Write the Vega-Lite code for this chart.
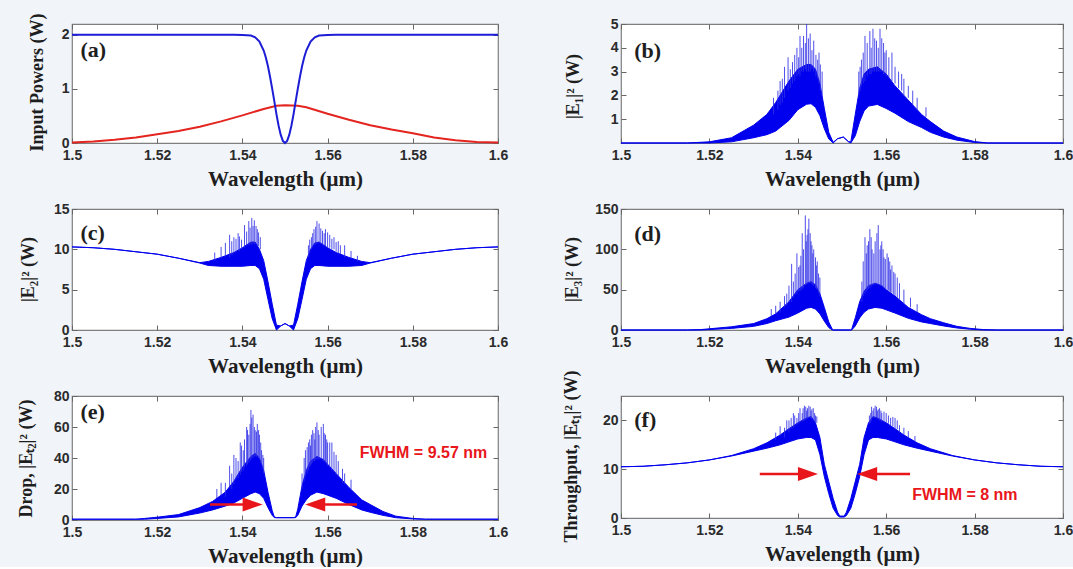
{
"$schema": "https://vega.github.io/schema/vega-lite/v6.json",
"background": "#f1f4f9",
"padding": {"left": 16, "top": 12, "right": 0, "bottom": 0},
"config": {
 "view": {"stroke": "#7f7f7f", "strokeWidth": 1.2, "fill": "#ffffff"},
 "axis": {"domain": false, "grid": false, "ticks": true, "tickSize": -5, "tickColor": "#666666", "tickWidth": 1,
  "labelFont": "Liberation Sans", "labelFontSize": 14, "labelFontWeight": "bold", "labelColor": "#2b2b2b",
  "titleFont": "Liberation Serif", "titleFontWeight": "bold", "titleColor": "#1e1e1e",
  "labelFlush": false, "labelOverlap": false, "labelBound": false},
 "axisX": {"titleFontSize": 21, "titlePadding": 6, "labelPadding": 10},
 "axisY": {"titleFontSize": 18, "titleBaseline": "middle", "labelPadding": 8}
},
"datasets": {
 "a_blue": [{"x":1.5,"y":2},{"x":1.53,"y":2},{"x":1.538,"y":2},{"x":1.54,"y":1.995},{"x":1.542,"y":1.986},{"x":1.543,"y":1.954},{"x":1.544,"y":1.876},{"x":1.545,"y":1.71},{"x":1.5455,"y":1.58},{"x":1.546,"y":1.42},{"x":1.5465,"y":1.22},{"x":1.547,"y":1.0},{"x":1.5475,"y":0.77},{"x":1.548,"y":0.53},{"x":1.5485,"y":0.32},{"x":1.549,"y":0.15},{"x":1.5495,"y":0.04},{"x":1.55,"y":0},{"x":1.5505,"y":0.04},{"x":1.551,"y":0.15},{"x":1.5515,"y":0.32},{"x":1.552,"y":0.53},{"x":1.5525,"y":0.77},{"x":1.553,"y":1.0},{"x":1.5535,"y":1.22},{"x":1.554,"y":1.42},{"x":1.5545,"y":1.58},{"x":1.555,"y":1.71},{"x":1.556,"y":1.876},{"x":1.557,"y":1.954},{"x":1.558,"y":1.986},{"x":1.56,"y":1.995},{"x":1.562,"y":2},{"x":1.6,"y":2}],
 "a_red": [{"x":1.5,"y":0.01},{"x":1.505,"y":0.03},{"x":1.51,"y":0.06},{"x":1.515,"y":0.1},{"x":1.52,"y":0.16},{"x":1.525,"y":0.22},{"x":1.53,"y":0.3},{"x":1.535,"y":0.4},{"x":1.54,"y":0.51},{"x":1.545,"y":0.63},{"x":1.548,"y":0.69},{"x":1.55,"y":0.7},{"x":1.553,"y":0.69},{"x":1.555,"y":0.66},{"x":1.56,"y":0.54},{"x":1.565,"y":0.43},{"x":1.57,"y":0.33},{"x":1.575,"y":0.25},{"x":1.58,"y":0.18},{"x":1.585,"y":0.1},{"x":1.59,"y":0.05},{"x":1.595,"y":0.02},{"x":1.6,"y":0.01}],
 "b_band": [{"x":1.5,"lo":0,"hi":0},{"x":1.515,"lo":0,"hi":0},{"x":1.52,"lo":0,"hi":0.05},{"x":1.525,"lo":0.05,"hi":0.22},{"x":1.53,"lo":0.22,"hi":0.75},{"x":1.533,"lo":0.35,"hi":1.2},{"x":1.535,"lo":0.5,"hi":1.7},{"x":1.538,"lo":0.95,"hi":2.6},{"x":1.54,"lo":1.4,"hi":3.1},{"x":1.542,"lo":1.63,"hi":3.3},{"x":1.543,"lo":1.65,"hi":3.3},{"x":1.544,"lo":1.5,"hi":3.1},{"x":1.545,"lo":1.15,"hi":2.5},{"x":1.546,"lo":0.6,"hi":1.45},{"x":1.547,"lo":0.17,"hi":0.45},{"x":1.548,"lo":0,"hi":0.03},{"x":1.549,"lo":0.18,"hi":0.18},{"x":1.5503,"lo":0.25,"hi":0.25},{"x":1.5515,"lo":0.05,"hi":0.05},{"x":1.552,"lo":0,"hi":0.05},{"x":1.553,"lo":0.3,"hi":1.2},{"x":1.554,"lo":0.9,"hi":2.3},{"x":1.555,"lo":1.35,"hi":2.9},{"x":1.556,"lo":1.55,"hi":3.1},{"x":1.558,"lo":1.62,"hi":3.2},{"x":1.56,"lo":1.45,"hi":2.9},{"x":1.562,"lo":1.25,"hi":2.4},{"x":1.565,"lo":0.9,"hi":1.8},{"x":1.568,"lo":0.65,"hi":1.2},{"x":1.57,"lo":0.45,"hi":0.9},{"x":1.573,"lo":0.25,"hi":0.5},{"x":1.576,"lo":0.12,"hi":0.25},{"x":1.58,"lo":0.02,"hi":0.06},{"x":1.583,"lo":0,"hi":0},{"x":1.6,"lo":0,"hi":0}],
 "b_spk": [{"x":1.5345,"y0":1.2,"y1":1.9},{"x":1.5355,"y0":1.4,"y1":2.2},{"x":1.536,"y0":1.6,"y1":2.6},{"x":1.5365,"y0":1.7,"y1":2.7},{"x":1.537,"y0":1.9,"y1":3.2},{"x":1.5378,"y0":2.2,"y1":3.6},{"x":1.5383,"y0":2.3,"y1":3.1},{"x":1.5388,"y0":2.5,"y1":3.4},{"x":1.5393,"y0":2.6,"y1":3.7},{"x":1.5398,"y0":2.8,"y1":4.0},{"x":1.5402,"y0":2.9,"y1":3.6},{"x":1.5405,"y0":2.8,"y1":4.5},{"x":1.5409,"y0":3.0,"y1":4.0},{"x":1.5413,"y0":3.0,"y1":4.5},{"x":1.5417,"y0":3.1,"y1":4.2},{"x":1.542,"y0":3.0,"y1":5.0},{"x":1.5424,"y0":3.0,"y1":4.4},{"x":1.5428,"y0":3.0,"y1":4.6},{"x":1.5432,"y0":3.1,"y1":3.9},{"x":1.5436,"y0":3.0,"y1":4.3},{"x":1.5441,"y0":2.8,"y1":3.7},{"x":1.5445,"y0":2.7,"y1":3.5},{"x":1.5448,"y0":2.5,"y1":3.8},{"x":1.5451,"y0":2.2,"y1":3.3},{"x":1.5455,"y0":2.0,"y1":3.0},{"x":1.5538,"y0":2.0,"y1":3.0},{"x":1.5541,"y0":2.2,"y1":3.2},{"x":1.5544,"y0":2.4,"y1":3.5},{"x":1.5548,"y0":2.5,"y1":3.8},{"x":1.5552,"y0":2.6,"y1":4.5},{"x":1.5557,"y0":2.8,"y1":4.2},{"x":1.5563,"y0":2.9,"y1":4.7},{"x":1.5566,"y0":2.9,"y1":4.0},{"x":1.557,"y0":3.0,"y1":4.8},{"x":1.5574,"y0":3.0,"y1":4.4},{"x":1.5578,"y0":3.0,"y1":4.3},{"x":1.5582,"y0":3.0,"y1":4.0},{"x":1.5586,"y0":3.0,"y1":4.8},{"x":1.559,"y0":3.0,"y1":4.4},{"x":1.5594,"y0":2.9,"y1":4.2},{"x":1.5597,"y0":2.9,"y1":3.8},{"x":1.56,"y0":2.8,"y1":3.9},{"x":1.5606,"y0":2.7,"y1":3.6},{"x":1.5613,"y0":2.6,"y1":3.8},{"x":1.562,"y0":2.5,"y1":3.2},{"x":1.5628,"y0":2.3,"y1":3.0},{"x":1.5635,"y0":2.2,"y1":2.9},{"x":1.564,"y0":2.0,"y1":2.7},{"x":1.565,"y0":1.9,"y1":2.4},{"x":1.566,"y0":1.6,"y1":2.2},{"x":1.567,"y0":1.4,"y1":1.9},{"x":1.569,"y0":1.1,"y1":1.5}],
 "c_band": [{"x":1.5,"lo":10.3,"hi":10.3},{"x":1.505,"lo":10.2,"hi":10.2},{"x":1.51,"lo":10.0,"hi":10.0},{"x":1.515,"lo":9.7,"hi":9.7},{"x":1.52,"lo":9.4,"hi":9.4},{"x":1.525,"lo":8.9,"hi":8.9},{"x":1.53,"lo":8.3,"hi":8.35},{"x":1.532,"lo":8.0,"hi":8.5},{"x":1.535,"lo":7.9,"hi":9.0},{"x":1.538,"lo":7.9,"hi":9.6},{"x":1.54,"lo":7.9,"hi":10.2},{"x":1.542,"lo":8.0,"hi":10.9},{"x":1.543,"lo":8.0,"hi":10.9},{"x":1.544,"lo":7.6,"hi":10.0},{"x":1.545,"lo":6.3,"hi":8.6},{"x":1.546,"lo":3.8,"hi":6.0},{"x":1.547,"lo":1.4,"hi":3.2},{"x":1.548,"lo":0,"hi":0.6},{"x":1.549,"lo":0.5,"hi":0.5},{"x":1.55,"lo":0.8,"hi":0.8},{"x":1.551,"lo":0.5,"hi":0.5},{"x":1.552,"lo":0,"hi":0.6},{"x":1.553,"lo":1.4,"hi":3.2},{"x":1.554,"lo":3.8,"hi":6.0},{"x":1.555,"lo":6.3,"hi":8.6},{"x":1.556,"lo":7.6,"hi":10.0},{"x":1.557,"lo":8.0,"hi":10.8},{"x":1.558,"lo":8.0,"hi":10.9},{"x":1.56,"lo":7.9,"hi":10.2},{"x":1.562,"lo":7.9,"hi":9.6},{"x":1.565,"lo":7.9,"hi":9.0},{"x":1.568,"lo":8.0,"hi":8.5},{"x":1.57,"lo":8.3,"hi":8.35},{"x":1.575,"lo":8.9,"hi":8.9},{"x":1.58,"lo":9.4,"hi":9.4},{"x":1.585,"lo":9.7,"hi":9.7},{"x":1.59,"lo":10.0,"hi":10.0},{"x":1.595,"lo":10.2,"hi":10.2},{"x":1.6,"lo":10.3,"hi":10.3}],
 "c_spk": [{"x":1.5335,"y0":8.6,"y1":9.6},{"x":1.535,"y0":8.9,"y1":10.3},{"x":1.536,"y0":9.1,"y1":10.8},{"x":1.537,"y0":9,"y1":11.8},{"x":1.5375,"y0":9.3,"y1":11},{"x":1.538,"y0":9.5,"y1":11.5},{"x":1.5385,"y0":9.6,"y1":11.3},{"x":1.539,"y0":9.8,"y1":12},{"x":1.5393,"y0":9.8,"y1":11.6},{"x":1.5398,"y0":10,"y1":11.2},{"x":1.5405,"y0":10.2,"y1":13},{"x":1.541,"y0":10.4,"y1":12.2},{"x":1.5415,"y0":10.5,"y1":13.5},{"x":1.5418,"y0":10.6,"y1":12.7},{"x":1.5422,"y0":10.6,"y1":13.9},{"x":1.5425,"y0":10.8,"y1":12.9},{"x":1.5428,"y0":10.6,"y1":13.6},{"x":1.5432,"y0":10.7,"y1":12.9},{"x":1.5435,"y0":10.5,"y1":12.5},{"x":1.5438,"y0":10.4,"y1":12.1},{"x":1.5442,"y0":10,"y1":11.5},{"x":1.5555,"y0":9,"y1":10.5},{"x":1.5558,"y0":9.5,"y1":11.2},{"x":1.5562,"y0":10,"y1":11.5},{"x":1.5565,"y0":10.2,"y1":12},{"x":1.5568,"y0":10.5,"y1":12.5},{"x":1.5572,"y0":10.6,"y1":12.8},{"x":1.5575,"y0":10.7,"y1":13.5},{"x":1.558,"y0":10.8,"y1":13.2},{"x":1.5584,"y0":10.7,"y1":12.6},{"x":1.5588,"y0":10.6,"y1":12.3},{"x":1.5592,"y0":10.5,"y1":12},{"x":1.5595,"y0":10.4,"y1":12.5},{"x":1.56,"y0":10.2,"y1":12.1},{"x":1.5605,"y0":10.2,"y1":11.8},{"x":1.561,"y0":10,"y1":11.3},{"x":1.5615,"y0":10,"y1":11.5},{"x":1.562,"y0":9.7,"y1":10.9},{"x":1.5625,"y0":9.5,"y1":11},{"x":1.563,"y0":9.4,"y1":10.5},{"x":1.564,"y0":9.0,"y1":10.5},{"x":1.5655,"y0":8.9,"y1":9.8},{"x":1.567,"y0":8.5,"y1":9.2}],
 "d_band": [{"x":1.5,"lo":0,"hi":0},{"x":1.515,"lo":0,"hi":0},{"x":1.518,"lo":0,"hi":0.5},{"x":1.52,"lo":0.5,"hi":1.5},{"x":1.525,"lo":2,"hi":4},{"x":1.53,"lo":4.5,"hi":8},{"x":1.533,"lo":8,"hi":14},{"x":1.535,"lo":11.5,"hi":20},{"x":1.538,"lo":16,"hi":35},{"x":1.54,"lo":21,"hi":50},{"x":1.542,"lo":27,"hi":58},{"x":1.543,"lo":28,"hi":60},{"x":1.544,"lo":26,"hi":56},{"x":1.545,"lo":20,"hi":45},{"x":1.546,"lo":11,"hi":28},{"x":1.547,"lo":3,"hi":10},{"x":1.5478,"lo":0,"hi":1},{"x":1.548,"lo":0,"hi":0},{"x":1.552,"lo":0,"hi":0},{"x":1.5522,"lo":0,"hi":1},{"x":1.553,"lo":5,"hi":15},{"x":1.554,"lo":15,"hi":35},{"x":1.555,"lo":22,"hi":48},{"x":1.556,"lo":26,"hi":55},{"x":1.5575,"lo":28,"hi":58},{"x":1.559,"lo":27,"hi":55},{"x":1.56,"lo":25,"hi":50},{"x":1.562,"lo":21,"hi":42},{"x":1.565,"lo":14.5,"hi":28},{"x":1.568,"lo":10,"hi":19},{"x":1.57,"lo":8,"hi":14},{"x":1.573,"lo":5,"hi":9},{"x":1.576,"lo":2.5,"hi":4.5},{"x":1.579,"lo":1,"hi":2},{"x":1.582,"lo":0,"hi":0.5},{"x":1.585,"lo":0,"hi":0},{"x":1.6,"lo":0,"hi":0}],
 "d_spk": [{"x":1.534,"y0":17,"y1":26},{"x":1.535,"y0":20,"y1":30},{"x":1.536,"y0":22,"y1":35},{"x":1.537,"y0":28,"y1":42},{"x":1.5375,"y0":30,"y1":45},{"x":1.538,"y0":34,"y1":55},{"x":1.5386,"y0":35,"y1":82},{"x":1.539,"y0":40,"y1":60},{"x":1.5394,"y0":44,"y1":70},{"x":1.5398,"y0":45,"y1":95},{"x":1.5402,"y0":48,"y1":78},{"x":1.5405,"y0":48,"y1":80},{"x":1.5407,"y0":50,"y1":92},{"x":1.541,"y0":50,"y1":120},{"x":1.5413,"y0":52,"y1":100},{"x":1.5417,"y0":55,"y1":142},{"x":1.5419,"y0":56,"y1":110},{"x":1.5421,"y0":57,"y1":118},{"x":1.5423,"y0":58,"y1":125},{"x":1.5425,"y0":58,"y1":138},{"x":1.5428,"y0":58,"y1":120},{"x":1.543,"y0":58,"y1":110},{"x":1.5432,"y0":57,"y1":105},{"x":1.5434,"y0":56,"y1":95},{"x":1.5436,"y0":55,"y1":100},{"x":1.544,"y0":52,"y1":90},{"x":1.5442,"y0":51,"y1":80},{"x":1.5444,"y0":50,"y1":85},{"x":1.5447,"y0":46,"y1":70},{"x":1.545,"y0":42,"y1":65},{"x":1.5545,"y0":35,"y1":60},{"x":1.5548,"y0":42,"y1":85},{"x":1.5552,"y0":45,"y1":115},{"x":1.5555,"y0":48,"y1":95},{"x":1.5557,"y0":50,"y1":105},{"x":1.556,"y0":51,"y1":110},{"x":1.5563,"y0":52,"y1":125},{"x":1.5566,"y0":54,"y1":115},{"x":1.5568,"y0":55,"y1":100},{"x":1.5572,"y0":56,"y1":95},{"x":1.5575,"y0":56,"y1":110},{"x":1.5579,"y0":57,"y1":120},{"x":1.5582,"y0":56,"y1":130},{"x":1.5586,"y0":55,"y1":100},{"x":1.5588,"y0":55,"y1":105},{"x":1.559,"y0":54,"y1":110},{"x":1.5593,"y0":53,"y1":100},{"x":1.5595,"y0":52,"y1":90},{"x":1.5598,"y0":51,"y1":88},{"x":1.5602,"y0":50,"y1":95},{"x":1.5605,"y0":49,"y1":90},{"x":1.5608,"y0":48,"y1":85},{"x":1.561,"y0":47,"y1":75},{"x":1.5613,"y0":46,"y1":80},{"x":1.5617,"y0":44,"y1":72},{"x":1.562,"y0":42,"y1":70},{"x":1.5625,"y0":40,"y1":65},{"x":1.563,"y0":38,"y1":58},{"x":1.564,"y0":32,"y1":50},{"x":1.5655,"y0":28,"y1":40},{"x":1.567,"y0":22,"y1":32}],
 "e_band": [{"x":1.5,"lo":0.5,"hi":0.5},{"x":1.515,"lo":0.5,"hi":0.5},{"x":1.517,"lo":0.5,"hi":1.0},{"x":1.52,"lo":1.0,"hi":1.8},{"x":1.525,"lo":2.0,"hi":3.5},{"x":1.53,"lo":4.5,"hi":8},{"x":1.533,"lo":6.5,"hi":12},{"x":1.536,"lo":9,"hi":18},{"x":1.538,"lo":11,"hi":25},{"x":1.54,"lo":14,"hi":34},{"x":1.542,"lo":17,"hi":41},{"x":1.543,"lo":18,"hi":43},{"x":1.544,"lo":17,"hi":40},{"x":1.545,"lo":14,"hi":32},{"x":1.546,"lo":8,"hi":18},{"x":1.547,"lo":3,"hi":6},{"x":1.5475,"lo":1.5,"hi":2},{"x":1.548,"lo":1.5,"hi":1.5},{"x":1.552,"lo":1.5,"hi":1.5},{"x":1.5525,"lo":1.5,"hi":2},{"x":1.553,"lo":3,"hi":7},{"x":1.554,"lo":9,"hi":22},{"x":1.555,"lo":13,"hi":32},{"x":1.556,"lo":16,"hi":38},{"x":1.5575,"lo":18,"hi":41},{"x":1.559,"lo":17,"hi":39},{"x":1.56,"lo":16,"hi":36},{"x":1.562,"lo":14,"hi":30},{"x":1.565,"lo":10,"hi":21},{"x":1.568,"lo":6.5,"hi":13},{"x":1.57,"lo":5,"hi":10},{"x":1.573,"lo":3,"hi":5.5},{"x":1.576,"lo":1.5,"hi":2.5},{"x":1.58,"lo":0.7,"hi":1},{"x":1.583,"lo":0.5,"hi":0.5},{"x":1.6,"lo":0.5,"hi":0.5}],
 "e_spk": [{"x":1.534,"y0":14,"y1":20},{"x":1.535,"y0":16,"y1":24},{"x":1.536,"y0":15,"y1":24},{"x":1.537,"y0":21,"y1":35},{"x":1.5375,"y0":20,"y1":30},{"x":1.538,"y0":23,"y1":42},{"x":1.5385,"y0":26,"y1":40},{"x":1.539,"y0":27,"y1":38},{"x":1.5395,"y0":29,"y1":50},{"x":1.5398,"y0":31,"y1":48},{"x":1.5402,"y0":32,"y1":45},{"x":1.5405,"y0":34,"y1":52},{"x":1.541,"y0":35,"y1":60},{"x":1.5412,"y0":36,"y1":58},{"x":1.5415,"y0":37,"y1":55},{"x":1.5418,"y0":38,"y1":62},{"x":1.542,"y0":39,"y1":71},{"x":1.5422,"y0":40,"y1":66},{"x":1.5425,"y0":40,"y1":68},{"x":1.5428,"y0":41,"y1":60},{"x":1.543,"y0":41,"y1":58},{"x":1.5433,"y0":41,"y1":57},{"x":1.5435,"y0":41,"y1":62},{"x":1.5438,"y0":40,"y1":58},{"x":1.544,"y0":39,"y1":55},{"x":1.5443,"y0":37,"y1":50},{"x":1.5445,"y0":36,"y1":45},{"x":1.5448,"y0":33,"y1":42},{"x":1.545,"y0":30,"y1":40},{"x":1.554,"y0":20,"y1":30},{"x":1.5545,"y0":25,"y1":40},{"x":1.5548,"y0":28,"y1":45},{"x":1.5552,"y0":30,"y1":47},{"x":1.5555,"y0":32,"y1":50},{"x":1.5558,"y0":34,"y1":52},{"x":1.556,"y0":35,"y1":48},{"x":1.5562,"y0":36,"y1":55},{"x":1.5565,"y0":37,"y1":58},{"x":1.5568,"y0":38,"y1":56},{"x":1.557,"y0":38,"y1":52},{"x":1.5572,"y0":39,"y1":60},{"x":1.5575,"y0":39,"y1":63},{"x":1.5578,"y0":39,"y1":58},{"x":1.558,"y0":39,"y1":55},{"x":1.5585,"y0":39,"y1":60},{"x":1.559,"y0":38,"y1":62},{"x":1.5592,"y0":38,"y1":56},{"x":1.5595,"y0":37,"y1":55},{"x":1.5598,"y0":36,"y1":52},{"x":1.56,"y0":35,"y1":50},{"x":1.5605,"y0":34,"y1":50},{"x":1.561,"y0":32,"y1":50},{"x":1.5615,"y0":31,"y1":44},{"x":1.562,"y0":29,"y1":42},{"x":1.5625,"y0":28,"y1":38},{"x":1.5635,"y0":24,"y1":33},{"x":1.564,"y0":23,"y1":30},{"x":1.5655,"y0":20,"y1":26}],
 "f_band": [{"x":1.5,"lo":10.5,"hi":10.5},{"x":1.505,"lo":10.6,"hi":10.6},{"x":1.51,"lo":10.9,"hi":10.9},{"x":1.515,"lo":11.3,"hi":11.3},{"x":1.52,"lo":11.9,"hi":11.9},{"x":1.525,"lo":12.7,"hi":12.8},{"x":1.53,"lo":13.7,"hi":14.2},{"x":1.533,"lo":14.3,"hi":15.4},{"x":1.536,"lo":15.0,"hi":17.0},{"x":1.538,"lo":15.6,"hi":18.3},{"x":1.54,"lo":16.2,"hi":19.5},{"x":1.542,"lo":16.5,"hi":20.5},{"x":1.543,"lo":16.5,"hi":20.8},{"x":1.544,"lo":16.0,"hi":19.5},{"x":1.545,"lo":13.0,"hi":16.5},{"x":1.546,"lo":8.5,"hi":11},{"x":1.547,"lo":5,"hi":7.5},{"x":1.548,"lo":2,"hi":4},{"x":1.549,"lo":0.5,"hi":1.2},{"x":1.5495,"lo":0.2,"hi":0.4},{"x":1.5505,"lo":0.2,"hi":0.4},{"x":1.551,"lo":0.5,"hi":1.2},{"x":1.552,"lo":2,"hi":4},{"x":1.553,"lo":5,"hi":7.5},{"x":1.554,"lo":8.5,"hi":11},{"x":1.555,"lo":13,"hi":16.5},{"x":1.556,"lo":16,"hi":19.5},{"x":1.557,"lo":16.5,"hi":20.8},{"x":1.558,"lo":16.5,"hi":20.5},{"x":1.56,"lo":16.2,"hi":19.5},{"x":1.562,"lo":15.6,"hi":18.3},{"x":1.564,"lo":15.0,"hi":17.0},{"x":1.567,"lo":14.3,"hi":15.4},{"x":1.57,"lo":13.7,"hi":14.2},{"x":1.575,"lo":12.7,"hi":12.8},{"x":1.58,"lo":11.9,"hi":11.9},{"x":1.585,"lo":11.3,"hi":11.3},{"x":1.59,"lo":10.9,"hi":10.9},{"x":1.595,"lo":10.6,"hi":10.6},{"x":1.6,"lo":10.5,"hi":10.5}],
 "f_spk": [{"x":1.535,"y0":16,"y1":17.5},{"x":1.536,"y0":16.8,"y1":18.8},{"x":1.537,"y0":16.5,"y1":18.5},{"x":1.5375,"y0":17.8,"y1":20},{"x":1.538,"y0":17.5,"y1":20},{"x":1.5385,"y0":18.3,"y1":20.5},{"x":1.539,"y0":18.5,"y1":21.5},{"x":1.5393,"y0":18.8,"y1":21},{"x":1.5398,"y0":19,"y1":20.5},{"x":1.5402,"y0":19.3,"y1":21.5},{"x":1.5405,"y0":19.5,"y1":22.5},{"x":1.541,"y0":19.8,"y1":21.5},{"x":1.5412,"y0":19.9,"y1":22.5},{"x":1.5415,"y0":20,"y1":23},{"x":1.5418,"y0":20.1,"y1":22.8},{"x":1.542,"y0":20.3,"y1":22},{"x":1.5422,"y0":20.4,"y1":22.5},{"x":1.5425,"y0":20.5,"y1":23},{"x":1.5428,"y0":20.5,"y1":22.8},{"x":1.543,"y0":20.5,"y1":22},{"x":1.5432,"y0":20.3,"y1":22.3},{"x":1.5435,"y0":20,"y1":22.5},{"x":1.5438,"y0":19.8,"y1":21.5},{"x":1.544,"y0":19.5,"y1":21},{"x":1.5443,"y0":19.5,"y1":20.8},{"x":1.5562,"y0":19.3,"y1":21},{"x":1.5565,"y0":19.5,"y1":21.5},{"x":1.5567,"y0":20,"y1":22.8},{"x":1.557,"y0":20.5,"y1":22},{"x":1.5572,"y0":20.5,"y1":22.5},{"x":1.5575,"y0":20.5,"y1":23},{"x":1.5578,"y0":20.5,"y1":22.8},{"x":1.558,"y0":20.3,"y1":22},{"x":1.5582,"y0":20.2,"y1":22.3},{"x":1.5585,"y0":20,"y1":22.5},{"x":1.5588,"y0":19.9,"y1":22},{"x":1.559,"y0":19.8,"y1":21.5},{"x":1.5595,"y0":19.6,"y1":21.8},{"x":1.56,"y0":19.5,"y1":21.5},{"x":1.5605,"y0":19.3,"y1":21},{"x":1.561,"y0":19,"y1":20.5},{"x":1.5615,"y0":18.8,"y1":20.7},{"x":1.562,"y0":18.3,"y1":20.5},{"x":1.5625,"y0":18.2,"y1":20},{"x":1.563,"y0":17.5,"y1":19},{"x":1.564,"y0":17,"y1":18.5},{"x":1.565,"y0":16.5,"y1":17.8},{"x":1.5665,"y0":15.8,"y1":16.8}],
 "e_shaft": [{"x":1.5324,"x2":1.5405,"y":10},{"x":1.5594,"x2":1.5669,"y":10}],
 "e_head": [{"x":1.5424,"y":10,"dir":"r"},{"x":1.5571,"y":10,"dir":"l"}],
 "f_shaft": [{"x":1.5314,"x2":1.5405,"y":9},{"x":1.5575,"x2":1.5654,"y":9}],
 "f_head": [{"x":1.5423,"y":9,"dir":"r"},{"x":1.5557,"y":9,"dir":"l"}]
},
"columns": 2,
"spacing": {"row": 66, "column": 123},
"bounds": "flush",
"concat": [
  {"width": 426, "height": 119,
   "layer": [
    {"data": {"name": "a_red"}, "mark": {"type": "line", "color": "#e3241f", "strokeWidth": 2},
     "encoding": {
      "x": {"field": "x", "type": "quantitative", "scale": {"domain": [1.5, 1.6], "nice": false, "zero": false}, "axis": {"values": [1.5, 1.52, 1.54, 1.56, 1.58, 1.6], "format": ".2~f", "title": "Wavelength (μm)"}},
      "y": {"field": "y", "type": "quantitative", "scale": {"domain": [0, 2.2], "nice": false}, "axis": {"values": [0, 1, 2], "title": "Input Powers (W)", "titleX": -35, "titleY": 58}}}},
    {"data": {"name": "a_blue"}, "mark": {"type": "line", "color": "#1d1dd6", "strokeWidth": 2},
     "encoding": {"x": {"field": "x", "type": "quantitative", "axis": null}, "y": {"field": "y", "type": "quantitative", "axis": null}}},
    {"data": {"values": [{"x": 1.502, "y": 1.72, "t": "(a)"}]}, "mark": {"type": "text", "align": "left", "baseline": "middle", "font": "Liberation Serif", "fontSize": 22, "fontWeight": "bold", "color": "#1e1e1e"},
     "encoding": {"x": {"field": "x", "type": "quantitative", "axis": {"orient": "top", "values": [1.5, 1.52, 1.54, 1.56, 1.58, 1.6], "labels": false, "title": null}},
      "y": {"field": "y", "type": "quantitative", "axis": {"orient": "right", "values": [0, 1, 2], "labels": false, "title": null}}, "text": {"field": "t"}}}
   ],
   "resolve": {"axis": {"x": "independent", "y": "independent"}}},
  {"width": 442, "height": 119,
   "layer": [
    {"data": {"name": "b_band"}, "mark": {"type": "area", "color": "#0000ee", "stroke": "#0000ee", "strokeWidth": 1},
     "encoding": {
      "x": {"field": "x", "type": "quantitative", "scale": {"domain": [1.5, 1.6], "nice": false, "zero": false}, "axis": {"values": [1.5, 1.52, 1.54, 1.56, 1.58, 1.6], "format": ".2~f", "title": "Wavelength (μm)"}},
      "y": {"field": "hi", "type": "quantitative", "scale": {"domain": [0, 5], "nice": false}, "axis": {"values": [1, 2, 3, 4, 5], "title": "|E₁|² (W)", "titleX": -48, "titleY": 62}},
      "y2": {"field": "lo"}}},
    {"data": {"name": "b_spk"}, "mark": {"type": "rule", "color": "#3030e6", "strokeWidth": 1, "opacity": 0.85},
     "encoding": {"x": {"field": "x", "type": "quantitative", "axis": null}, "y": {"field": "y0", "type": "quantitative", "axis": null}, "y2": {"field": "y1"}}},
    {"data": {"values": [{"x": 1.503, "y": 3.85, "t": "(b)"}]}, "mark": {"type": "text", "align": "left", "baseline": "middle", "font": "Liberation Serif", "fontSize": 22, "fontWeight": "bold", "color": "#1e1e1e"},
     "encoding": {"x": {"field": "x", "type": "quantitative", "axis": {"orient": "top", "values": [1.5, 1.52, 1.54, 1.56, 1.58, 1.6], "labels": false, "title": null}},
      "y": {"field": "y", "type": "quantitative", "axis": {"orient": "right", "values": [1, 2, 3, 4, 5], "labels": false, "title": null}}, "text": {"field": "t"}}}
   ],
   "resolve": {"axis": {"x": "independent", "y": "independent"}}},
   {"width": 426, "height": 121,
    "layer": [
     {"data": {"name": "c_band"}, "mark": {"type": "area", "color": "#0000ee", "stroke": "#0000ee", "strokeWidth": 1},
      "encoding": {
       "x": {"field": "x", "type": "quantitative", "scale": {"domain": [1.5, 1.6], "nice": false, "zero": false}, "axis": {"values": [1.5, 1.52, 1.54, 1.56, 1.58, 1.6], "format": ".2~f", "title": "Wavelength (μm)"}},
       "y": {"field": "hi", "type": "quantitative", "scale": {"domain": [0, 15], "nice": false}, "axis": {"values": [0, 5, 10, 15], "title": "|E₂|² (W)", "titleX": -44, "titleY": 60}},
       "y2": {"field": "lo"}}},
     {"data": {"name": "c_spk"}, "mark": {"type": "rule", "color": "#3030e6", "strokeWidth": 1, "opacity": 0.85},
      "encoding": {"x": {"field": "x", "type": "quantitative", "axis": null}, "y": {"field": "y0", "type": "quantitative", "axis": null}, "y2": {"field": "y1"}}},
     {"data": {"values": [{"x": 1.502, "y": 12, "t": "(c)"}]}, "mark": {"type": "text", "align": "left", "baseline": "middle", "font": "Liberation Serif", "fontSize": 22, "fontWeight": "bold", "color": "#1e1e1e"},
      "encoding": {"x": {"field": "x", "type": "quantitative", "axis": {"orient": "top", "values": [1.5, 1.52, 1.54, 1.56, 1.58, 1.6], "labels": false, "title": null}},
       "y": {"field": "y", "type": "quantitative", "axis": {"orient": "right", "values": [0, 5, 10, 15], "labels": false, "title": null}}, "text": {"field": "t"}}}
    ],
    "resolve": {"axis": {"x": "independent", "y": "independent"}}},
   {"width": 442, "height": 121,
    "layer": [
     {"data": {"name": "d_band"}, "mark": {"type": "area", "color": "#0000ee", "stroke": "#0000ee", "strokeWidth": 1},
      "encoding": {
       "x": {"field": "x", "type": "quantitative", "scale": {"domain": [1.5, 1.6], "nice": false, "zero": false}, "axis": {"values": [1.5, 1.52, 1.54, 1.56, 1.58, 1.6], "format": ".2~f", "title": "Wavelength (μm)"}},
       "y": {"field": "hi", "type": "quantitative", "scale": {"domain": [0, 150], "nice": false}, "axis": {"values": [0, 50, 100, 150], "title": "|E₃|² (W)", "titleX": -49, "titleY": 60}},
       "y2": {"field": "lo"}}},
     {"data": {"name": "d_spk"}, "mark": {"type": "rule", "color": "#3030e6", "strokeWidth": 1, "opacity": 0.85},
      "encoding": {"x": {"field": "x", "type": "quantitative", "axis": null}, "y": {"field": "y0", "type": "quantitative", "axis": null}, "y2": {"field": "y1"}}},
     {"data": {"values": [{"x": 1.503, "y": 119, "t": "(d)"}]}, "mark": {"type": "text", "align": "left", "baseline": "middle", "font": "Liberation Serif", "fontSize": 22, "fontWeight": "bold", "color": "#1e1e1e"},
      "encoding": {"x": {"field": "x", "type": "quantitative", "axis": {"orient": "top", "values": [1.5, 1.52, 1.54, 1.56, 1.58, 1.6], "labels": false, "title": null}},
       "y": {"field": "y", "type": "quantitative", "axis": {"orient": "right", "values": [0, 50, 100, 150], "labels": false, "title": null}}, "text": {"field": "t"}}}
    ],
    "resolve": {"axis": {"x": "independent", "y": "independent"}}},
   {"width": 426, "height": 124,
    "layer": [
     {"data": {"name": "e_band"}, "mark": {"type": "area", "color": "#0000ee", "stroke": "#0000ee", "strokeWidth": 1},
      "encoding": {
       "x": {"field": "x", "type": "quantitative", "scale": {"domain": [1.5, 1.6], "nice": false, "zero": false}, "axis": {"values": [1.5, 1.52, 1.54, 1.56, 1.58, 1.6], "format": ".2~f", "title": "Wavelength (μm)"}},
       "y": {"field": "hi", "type": "quantitative", "scale": {"domain": [0, 80], "nice": false}, "axis": {"values": [0, 20, 40, 60, 80], "title": "Drop, |Eₜ₂|² (W)", "titleX": -46, "titleY": 62}},
       "y2": {"field": "lo"}}},
     {"data": {"name": "e_spk"}, "mark": {"type": "rule", "color": "#3030e6", "strokeWidth": 1, "opacity": 0.85},
      "encoding": {"x": {"field": "x", "type": "quantitative", "axis": null}, "y": {"field": "y0", "type": "quantitative", "axis": null}, "y2": {"field": "y1"}}},
     {"data": {"name": "e_shaft"}, "mark": {"type": "rule", "color": "#e8161b", "strokeWidth": 2.5},
      "encoding": {"x": {"field": "x", "type": "quantitative", "axis": null}, "x2": {"field": "x2"}, "y": {"field": "y", "type": "quantitative", "axis": null}}},
     {"data": {"name": "e_head"}, "mark": {"type": "point", "filled": true, "color": "#e8161b", "opacity": 1, "size": 400},
      "encoding": {"x": {"field": "x", "type": "quantitative", "axis": null}, "y": {"field": "y", "type": "quantitative", "axis": null},
       "shape": {"field": "dir", "type": "nominal", "scale": {"domain": ["r", "l"], "range": ["M-1,-0.7L1,0L-1,0.7Z", "M1,-0.7L-1,0L1,0.7Z"]}, "legend": null}}},
     {"data": {"values": [{"x": 1.5825, "y": 43, "t": "FWHM = 9.57 nm"}]}, "mark": {"type": "text", "align": "center", "baseline": "middle", "font": "Liberation Sans", "fontSize": 16, "fontWeight": "bold", "color": "#e8161b"},
      "encoding": {"x": {"field": "x", "type": "quantitative", "axis": null}, "y": {"field": "y", "type": "quantitative", "axis": null}, "text": {"field": "t"}}},
     {"data": {"values": [{"x": 1.502, "y": 69.5, "t": "(e)"}]}, "mark": {"type": "text", "align": "left", "baseline": "middle", "font": "Liberation Serif", "fontSize": 22, "fontWeight": "bold", "color": "#1e1e1e"},
      "encoding": {"x": {"field": "x", "type": "quantitative", "axis": {"orient": "top", "values": [1.5, 1.52, 1.54, 1.56, 1.58, 1.6], "labels": false, "title": null}},
       "y": {"field": "y", "type": "quantitative", "axis": {"orient": "right", "values": [0, 20, 40, 60, 80], "labels": false, "title": null}}, "text": {"field": "t"}}}
    ],
    "resolve": {"axis": {"x": "independent", "y": "independent"}}},
   {"width": 442, "height": 122,
    "layer": [
     {"data": {"name": "f_band"}, "mark": {"type": "area", "color": "#0000ee", "stroke": "#0000ee", "strokeWidth": 1},
      "encoding": {
       "x": {"field": "x", "type": "quantitative", "scale": {"domain": [1.5, 1.6], "nice": false, "zero": false}, "axis": {"values": [1.5, 1.52, 1.54, 1.56, 1.58, 1.6], "format": ".2~f", "title": "Wavelength (μm)"}},
       "y": {"field": "hi", "type": "quantitative", "scale": {"domain": [0, 25], "nice": false}, "axis": {"values": [0, 10, 20], "title": "Throughput, |Eₜ₁|² (W)", "titleX": -50, "titleY": 60}},
       "y2": {"field": "lo"}}},
     {"data": {"name": "f_spk"}, "mark": {"type": "rule", "color": "#3030e6", "strokeWidth": 1, "opacity": 0.85},
      "encoding": {"x": {"field": "x", "type": "quantitative", "axis": null}, "y": {"field": "y0", "type": "quantitative", "axis": null}, "y2": {"field": "y1"}}},
     {"data": {"name": "f_shaft"}, "mark": {"type": "rule", "color": "#e8161b", "strokeWidth": 2.5},
      "encoding": {"x": {"field": "x", "type": "quantitative", "axis": null}, "x2": {"field": "x2"}, "y": {"field": "y", "type": "quantitative", "axis": null}}},
     {"data": {"name": "f_head"}, "mark": {"type": "point", "filled": true, "color": "#e8161b", "opacity": 1, "size": 400},
      "encoding": {"x": {"field": "x", "type": "quantitative", "axis": null}, "y": {"field": "y", "type": "quantitative", "axis": null},
       "shape": {"field": "dir", "type": "nominal", "scale": {"domain": ["r", "l"], "range": ["M-1,-0.7L1,0L-1,0.7Z", "M1,-0.7L-1,0L1,0.7Z"]}, "legend": null}}},
     {"data": {"values": [{"x": 1.5778, "y": 4.7, "t": "FWHM = 8 nm"}]}, "mark": {"type": "text", "align": "center", "baseline": "middle", "font": "Liberation Sans", "fontSize": 16, "fontWeight": "bold", "color": "#e8161b"},
      "encoding": {"x": {"field": "x", "type": "quantitative", "axis": null}, "y": {"field": "y", "type": "quantitative", "axis": null}, "text": {"field": "t"}}},
     {"data": {"values": [{"x": 1.503, "y": 20, "t": "(f)"}]}, "mark": {"type": "text", "align": "left", "baseline": "middle", "font": "Liberation Serif", "fontSize": 22, "fontWeight": "bold", "color": "#1e1e1e"},
      "encoding": {"x": {"field": "x", "type": "quantitative", "axis": {"orient": "top", "values": [1.5, 1.52, 1.54, 1.56, 1.58, 1.6], "labels": false, "title": null}},
       "y": {"field": "y", "type": "quantitative", "axis": {"orient": "right", "values": [0, 10, 20], "labels": false, "title": null}}, "text": {"field": "t"}}}
    ],
    "resolve": {"axis": {"x": "independent", "y": "independent"}}}
]
}
